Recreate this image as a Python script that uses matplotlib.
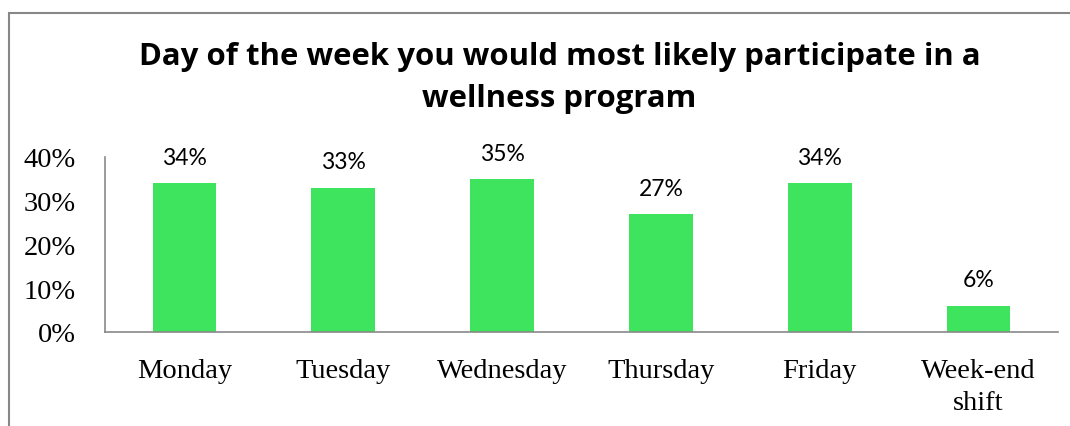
import matplotlib.pyplot as plt
from matplotlib.patches import Rectangle

days = ["Monday", "Tuesday", "Wednesday", "Thursday", "Friday", "Week-end\nshift"]
share = [34, 33, 35, 27, 34, 6]
yticks = [0, 10, 20, 30, 40]

fig = plt.figure(figsize=(10.7, 4.27), dpi=100)
ax = fig.add_axes([105/1070, 1 - 333/427, 953/1070, 175/427])

# chart border (runs off the right and bottom edges)
fig.patches.append(Rectangle((8.5/1070, -0.1), 1.2, 1.1 - 13.5/427,
                             transform=fig.transFigure, fill=False,
                             edgecolor="#878787", linewidth=1.5, clip_on=False))

x = range(len(days))
ax.bar(x, share, width=0.4, color="#3fe45e")
for i, v in zip(x, share):
    ax.annotate(f"{v}%", (i, v), xytext=(0, 11), textcoords="offset points",
                ha="center", va="bottom", fontsize=16.5, family="Lato")

ax.set_xlim(-0.5, 5.5)
ax.set_ylim(0, 40)
ax.set_xticks(list(x))
ax.set_xticklabels(days, family="Liberation Serif", fontsize=20.5, linespacing=1.35)
ax.set_yticks(yticks)
ax.set_yticklabels([f"{t}%" for t in yticks], family="Liberation Serif", fontsize=20.5)
ax.tick_params(axis="x", length=0, pad=19)
ax.tick_params(axis="y", length=0, pad=21)

for s in ["top", "right"]:
    ax.spines[s].set_visible(False)
for s in ["left", "bottom"]:
    ax.spines[s].set_color("#898989")
    ax.spines[s].set_linewidth(1.2)

fig.text(0.523, 1 - 78/427,
         "Day of the week you would most likely participate in a\nwellness program",
         ha="center", va="center", fontsize=22.4, fontweight="bold", family="Open Sans",
         linespacing=1.5)

fig.savefig("out.png", dpi=100)
